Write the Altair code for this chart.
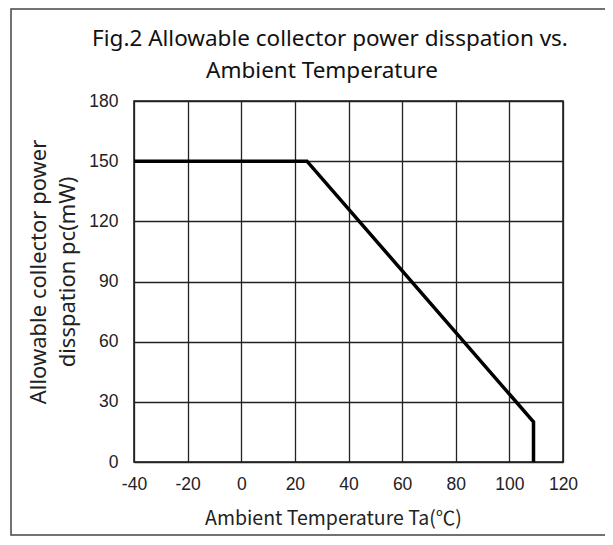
import altair as alt
import pandas as pd

temp_c = [-40, 24.5, 109, 109]
power_mw = [150, 150, 20, 0]
x_ticks = [-40, -20, 0, 20, 40, 60, 80, 100, 120]
y_ticks = [0, 30, 60, 90, 120, 150, 180]
title_lines = ["Fig.2 Allowable collector power disspation vs.", "Ambient Temperature"]

df = pd.DataFrame({"Ta": temp_c, "Pc": power_mw, "order": list(range(len(temp_c)))})

W, H = 429, 361

frame = alt.Chart(pd.DataFrame({"a": [0]})).mark_rect(
    fill=None, stroke="#444", strokeWidth=1.5
).encode(
    x=alt.value(-123), x2=alt.value(474), y=alt.value(-92), y2=alt.value(434)
)

t1 = alt.Chart(pd.DataFrame({"t": [title_lines[0]]})).mark_text(
    fontSize=22.5, font="Noto Sans", color="#111", align="center", baseline="middle"
).encode(text="t:N", x=alt.value(196), y=alt.value(-62))

t2 = alt.Chart(pd.DataFrame({"t": [title_lines[1]]})).mark_text(
    fontSize=22.5, font="Noto Sans", color="#111", align="center", baseline="middle"
).encode(text="t:N", x=alt.value(188), y=alt.value(-30))

line = alt.Chart(df).mark_line(color="black", strokeWidth=3.5, strokeCap="butt", strokeJoin="miter").encode(
    x=alt.X("Ta:Q", scale=alt.Scale(domain=[-40, 120], nice=False),
            axis=alt.Axis(values=x_ticks, title="Ambient Temperature Ta(℃)", tickSize=0,
                          labelExpr="toString(datum.value)",
                          labelPadding=13, titlePadding=17, labelFontSize=17.5, titleFontSize=19.5,
                          labelFont="Liberation Sans", titleFont="Noto Sans CJK SC",
                          titleFontWeight="normal", labelColor="#222", titleColor="#222",
                          titleX=199, titleAlign="center",
                          gridColor="#222", gridWidth=1.3, domain=False, labelFlush=False)),
    y=alt.Y("Pc:Q", scale=alt.Scale(domain=[0, 180], nice=False),
            axis=alt.Axis(values=y_ticks, title=["Allowable collector power", "disspation pc(mW)"],
                          tickSize=0, labelPadding=16, labelFontSize=17.5, titleFontSize=22,
                          labelFont="Liberation Sans", titleFont="Noto Sans",
                          titleFontWeight="normal", labelColor="#222", titleColor="#222",
                          gridColor="#222", gridWidth=1.3, domain=False,
                          titleX=-96, titleY=H / 2 - 10, titleAlign="center", titleBaseline="middle",
                          titleLineHeight=29)),
    order="order:O",
)

chart = alt.layer(line, frame, t1, t2).properties(
    width=W, height=H,
    padding={"left": 126, "top": 93, "right": 42, "bottom": 78},
    autosize=alt.AutoSizeParams(type="none"),
).configure_view(stroke="#111", strokeWidth=1.5)

chart.save("out.html", embed_options={"renderer": "svg", "actions": False})
